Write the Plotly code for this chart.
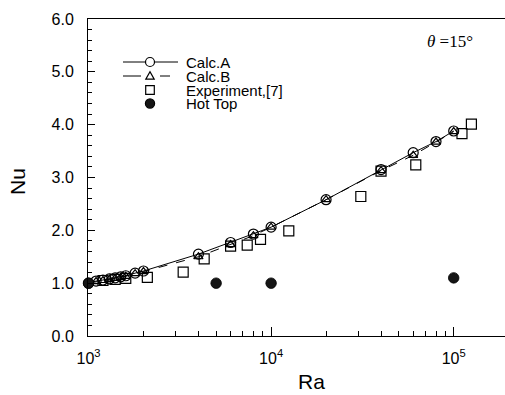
import plotly.graph_objects as go

# ---- data ----
ra_calc = [1000, 1100, 1200, 1300, 1400, 1500, 1600, 1800, 2000, 4000, 6000, 8000,
           10000, 20000, 40000, 60000, 80000, 100000]
nu_calc_a = [1.00, 1.04, 1.06, 1.08, 1.10, 1.12, 1.14, 1.19, 1.23, 1.55, 1.77, 1.93,
             2.06, 2.58, 3.15, 3.47, 3.68, 3.88]
nu_calc_b = [1.00, 1.03, 1.05, 1.07, 1.09, 1.11, 1.13, 1.18, 1.22, 1.50, 1.73, 1.90,
             2.06, 2.58, 3.13, 3.42, 3.67, 3.87]
ra_exp = [1200, 1400, 1600, 2100, 3300, 4300, 6000, 7400, 8750, 12500, 31000, 40000,
          62000, 111000, 125000]
nu_exp = [1.05, 1.07, 1.09, 1.11, 1.21, 1.46, 1.70, 1.72, 1.83, 1.99, 2.64, 3.12,
          3.24, 3.83, 4.01]
ra_hot = [1000, 5000, 10000, 100000]
nu_hot = [1.00, 1.00, 1.00, 1.10]

legend_labels = ["Calc.A", "Calc.B", "Experiment,[7]", "Hot Top"]
y_ticks = [0, 1, 2, 3, 4, 5, 6]
x_ticks = [1e3, 1e4, 1e5]
x_tick_text = ["10<sup>3</sup>", "10<sup>4</sup>", "10<sup>5</sup>"]

# ---- layout constants (pixels) ----
W, H = 505, 395
L, R, T, B = 88, 0, 19, 59
PW, PH = W - L - R, H - T - B
DEC = 182.6  # pixels per decade
X0 = 3 - 0.5 / DEC  # start half a pixel before 10^3 so points at 10^3 are kept


def px(x):
    return (x - L) / PW


def py(y):
    return (H - B - y) / PH


fig = go.Figure()
fig.add_trace(go.Scatter(x=ra_calc, y=nu_calc_a, mode="lines+markers", name=legend_labels[0],
                         line=dict(color="black", width=1),
                         marker=dict(symbol="circle-open", size=10, color="black",
                                     line=dict(width=1.2)),
                         cliponaxis=False, showlegend=False))
fig.add_trace(go.Scatter(x=ra_calc, y=nu_calc_b, mode="lines+markers", name=legend_labels[1],
                         line=dict(color="black", width=1, dash="dash"),
                         marker=dict(symbol="triangle-up-open", size=8, color="black",
                                     line=dict(width=1.2)),
                         cliponaxis=False, showlegend=False))
fig.add_trace(go.Scatter(x=ra_exp, y=nu_exp, mode="markers", name=legend_labels[2],
                         marker=dict(symbol="square-open", size=10, color="black",
                                     line=dict(width=1.2)),
                         cliponaxis=False, showlegend=False))
fig.add_trace(go.Scatter(x=ra_hot, y=nu_hot, mode="markers", name=legend_labels[3],
                         marker=dict(symbol="circle", size=10.5, color="#151515",
                                     line=dict(width=0.8, color="black")),
                         cliponaxis=False, showlegend=False))

font = "Liberation Sans, Arial, Helvetica, sans-serif"

fig.update_layout(
    width=W, height=H,
    margin=dict(l=L, r=R, t=T, b=B, pad=0),
    paper_bgcolor="white", plot_bgcolor="white",
    font=dict(family=font, color="black", size=16),
    xaxis=dict(type="log", range=[X0, X0 + PW / DEC],
               tickvals=x_ticks, ticktext=x_tick_text,
               ticks="inside", ticklen=9, tickwidth=1, tickcolor="black",
               minor=dict(ticks="inside", ticklen=5, dtick="D1", tickcolor="black",
                          showgrid=False),
               showline=True, linecolor="black", linewidth=1, mirror=True,
               showgrid=False, zeroline=False, ticklabelstandoff=8,
               tickfont=dict(size=16)),
    yaxis=dict(range=[0, 6], tickvals=y_ticks, tickformat=".1f",
               ticks="inside", ticklen=7, tickwidth=1, tickcolor="black",
               minor=dict(ticks="inside", ticklen=4, dtick=0.2, tickcolor="black",
                          showgrid=False),
               showline=True, linecolor="black", linewidth=1, mirror=True,
               showgrid=False, zeroline=False, ticklabelstandoff=10,
               tickfont=dict(size=16)),
)

annotations = [
    dict(text="Ra", x=px(311), y=py(381), xref="paper", yref="paper",
         showarrow=False, font=dict(size=21, family=font), xanchor="center", yanchor="middle"),
    dict(text="Nu", x=px(17), y=py(182), xref="paper", yref="paper", textangle=-90,
         showarrow=False, font=dict(size=21, family=font), xanchor="center", yanchor="middle"),
    dict(text="<i>θ</i> =15°", x=px(450), y=py(41), xref="paper", yref="paper",
         showarrow=False, font=dict(size=17, family="Liberation Serif, Times New Roman, serif"),
         xanchor="center", yanchor="middle"),
]

rows = [62, 76, 90, 103.5]
for lab, ry in zip(legend_labels, rows):
    annotations.append(dict(text=lab, x=px(185), y=py(ry), xref="paper", yref="paper",
                            showarrow=False, font=dict(size=15, family=font),
                            xanchor="left", yanchor="middle", borderpad=0))

shapes = []
# Calc.A legend sample
shapes.append(dict(type="line", xref="paper", yref="paper", x0=px(123), x1=px(178),
                   y0=py(rows[0]), y1=py(rows[0]), line=dict(color="black", width=1)))
# Calc.B legend sample (dashed)
shapes.append(dict(type="line", xref="paper", yref="paper", x0=px(123), x1=px(141),
                   y0=py(rows[1]), y1=py(rows[1]), line=dict(color="black", width=1)))
shapes.append(dict(type="line", xref="paper", yref="paper", x0=px(160), x1=px(170),
                   y0=py(rows[1]), y1=py(rows[1]), line=dict(color="black", width=1)))


def marker_shape(kind, cx, cy, r, fill=None):
    if kind == "circle":
        d = dict(type="circle", xref="paper", yref="paper", xsizemode="pixel",
                 ysizemode="pixel", xanchor=px(cx), yanchor=py(cy),
                 x0=-r, x1=r, y0=-r, y1=r, line=dict(color="black", width=1.2))
    elif kind == "square":
        d = dict(type="rect", xref="paper", yref="paper", xsizemode="pixel",
                 ysizemode="pixel", xanchor=px(cx), yanchor=py(cy),
                 x0=-r, x1=r, y0=-r, y1=r, line=dict(color="black", width=1.2))
    else:
        d = dict(type="path", xref="paper", yref="paper",
                 path=f"M {px(cx - r)} {py(cy + r * 0.75)} L {px(cx + r)} {py(cy + r * 0.75)} "
                      f"L {px(cx)} {py(cy - r)} Z",
                 line=dict(color="black", width=1.2))
    d["fillcolor"] = fill if fill else "white"
    return d


shapes.append(marker_shape("circle", 150, rows[0], 4.5))
shapes.append(marker_shape("tri", 150, rows[1], 4.2))
shapes.append(marker_shape("square", 150, rows[2], 4.3))
shapes.append(marker_shape("circle", 150, rows[3], 4.6, fill="#151515"))

fig.update_layout(annotations=annotations, shapes=shapes)
fig.write_html("out.html", config={"displayModeBar": False},
               post_script="document.body.style.margin='0px';")
